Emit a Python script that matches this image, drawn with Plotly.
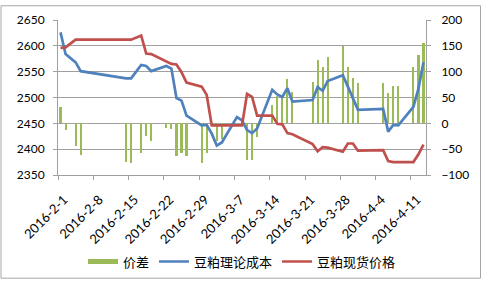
import plotly.graph_objects as go

dates = ["2016-02-01", "2016-02-02", "2016-02-04", "2016-02-05", "2016-02-14", "2016-02-15",
         "2016-02-17", "2016-02-18", "2016-02-19", "2016-02-22", "2016-02-23", "2016-02-24",
         "2016-02-25", "2016-02-26", "2016-02-29", "2016-03-01", "2016-03-02", "2016-03-03",
         "2016-03-04", "2016-03-07", "2016-03-08", "2016-03-09", "2016-03-10", "2016-03-11",
         "2016-03-14", "2016-03-15", "2016-03-16", "2016-03-17", "2016-03-18", "2016-03-22",
         "2016-03-23", "2016-03-24", "2016-03-25", "2016-03-28", "2016-03-29", "2016-03-30",
         "2016-03-31", "2016-04-05", "2016-04-06", "2016-04-07", "2016-04-08", "2016-04-11",
         "2016-04-12", "2016-04-13"]

spread = [31, -13, -43, -61, -75, -77,
          -58, -24, -34, -9, -11, -63,
          -57, -63, -77, -57, None, -34,
          -31, None, None, -70, -70, -26,
          35, 52, 49, 86, 60, 80,
          123, 109, 129, 149, 109, 88,
          78, 78, 58, 72, 72, 110,
          132, 156]

cost = [2626, 2584, 2568, 2551, 2537, 2537,
        2563, 2561, 2551, 2561, 2556, 2499,
        2494, 2465, 2446, 2447, 2430, 2407,
        2413, 2462, 2456, 2437, 2431, 2440,
        2515, 2506, 2501, 2518, 2492, 2495,
        2520, 2513, 2532, 2543, 2521, 2498,
        2476, 2478, 2434, 2447, 2446, 2482,
        2517, 2568]

spot = [2596, 2597, 2612, 2612, 2612, 2612,
        2620, 2585, 2584, 2570, 2565, 2564,
        2549, 2529, 2521, 2505, 2446, 2446,
        2446, 2446, 2446, 2507, 2501, 2465,
        2465, 2449, 2448, 2431, 2429, 2410,
        2396, 2404, 2403, 2395, 2411, 2411,
        2397, 2398, 2377, 2375, 2375, 2375,
        2390, 2409]

DAY = 86400000
GRID = "#a0a0a0"
GREEN, BLUE, RED = "#9BBB59", "#4F81BD", "#C0504D"
tick_font = dict(family="Lato, Liberation Sans, sans-serif", size=12, color="#000000")

fig = go.Figure()
fig.add_trace(go.Bar(x=dates, y=spread, name="价差", marker=dict(color=GREEN, line_width=0),
                     width=0.42 * DAY, xperiod=DAY, xperiodalignment="middle", yaxis="y",
                     showlegend=False))
# legend entry for the bars, drawn as a flat green swatch like the original
fig.add_trace(go.Scatter(x=[None], y=[None], name="价差", mode="lines",
                         line=dict(color=GREEN, width=5), yaxis="y"))
fig.add_trace(go.Scatter(x=dates, y=cost, name="豆粕理论成本", mode="lines",
                         line=dict(color=BLUE, width=2.7), xperiod=DAY,
                         xperiodalignment="middle", yaxis="y2"))
fig.add_trace(go.Scatter(x=dates, y=spot, name="豆粕现货价格", mode="lines",
                         line=dict(color=RED, width=2.7), xperiod=DAY,
                         xperiodalignment="middle", yaxis="y2"))

L, R, T, B = 58, 56, 16, 110
W, H = 482, 289
pw, ph = W - L - R, H - T - B

fig.update_layout(
    width=W, height=H, autosize=False,
    margin=dict(l=L, r=R, t=T, b=B, pad=0),
    paper_bgcolor="white", plot_bgcolor="white",
    bargap=0,
    xaxis=dict(type="date", range=["2016-02-01", "2016-04-14"], tick0="2016-02-01",
               dtick=7 * DAY, tickformat="%Y-%-m-%-d", tickangle=-45,
               ticks="outside", ticklen=4, tickcolor=GRID, showline=True, linecolor=GRID,
               linewidth=1, showgrid=False, zeroline=False,
               tickfont=dict(family="Lato, Liberation Sans, sans-serif", size=13, color="#000"),
               ticklabelstandoff=7, ticklabelshift=6),
    yaxis=dict(range=[-100, 200], dtick=50, tick0=0, side="right", showgrid=True,
               gridcolor=GRID, gridwidth=1, showline=True, linecolor=GRID, zeroline=False,
               ticks="outside", ticklen=4, tickcolor=GRID, tickfont=tick_font,
               ticklabelstandoff=8),
    yaxis2=dict(range=[2350, 2650], dtick=50, tick0=2350, side="left", overlaying="y",
                anchor="x", showgrid=False, showline=True, linecolor=GRID, zeroline=False,
                ticks="outside", ticklen=4, tickcolor=GRID, tickfont=tick_font,
                ticklabelstandoff=6),
    legend=dict(orientation="h", x=0.5, xanchor="center", y=(T + ph - 270) / ph,
                yanchor="middle", font=dict(family="Noto Sans CJK SC", size=13, color="#000"),
                bgcolor="rgba(0,0,0,0)"),
    shapes=[dict(type="rect", xref="paper", yref="paper",
                 x0=(1 - L) / pw, x1=(W - 1.5 - L) / pw,
                 y0=(T + ph - (H - 1.5)) / ph, y1=(T + ph - 1) / ph,
                 line=dict(color="#a6a6a6", width=1), layer="below")],
)

fig.write_html("out.html")
